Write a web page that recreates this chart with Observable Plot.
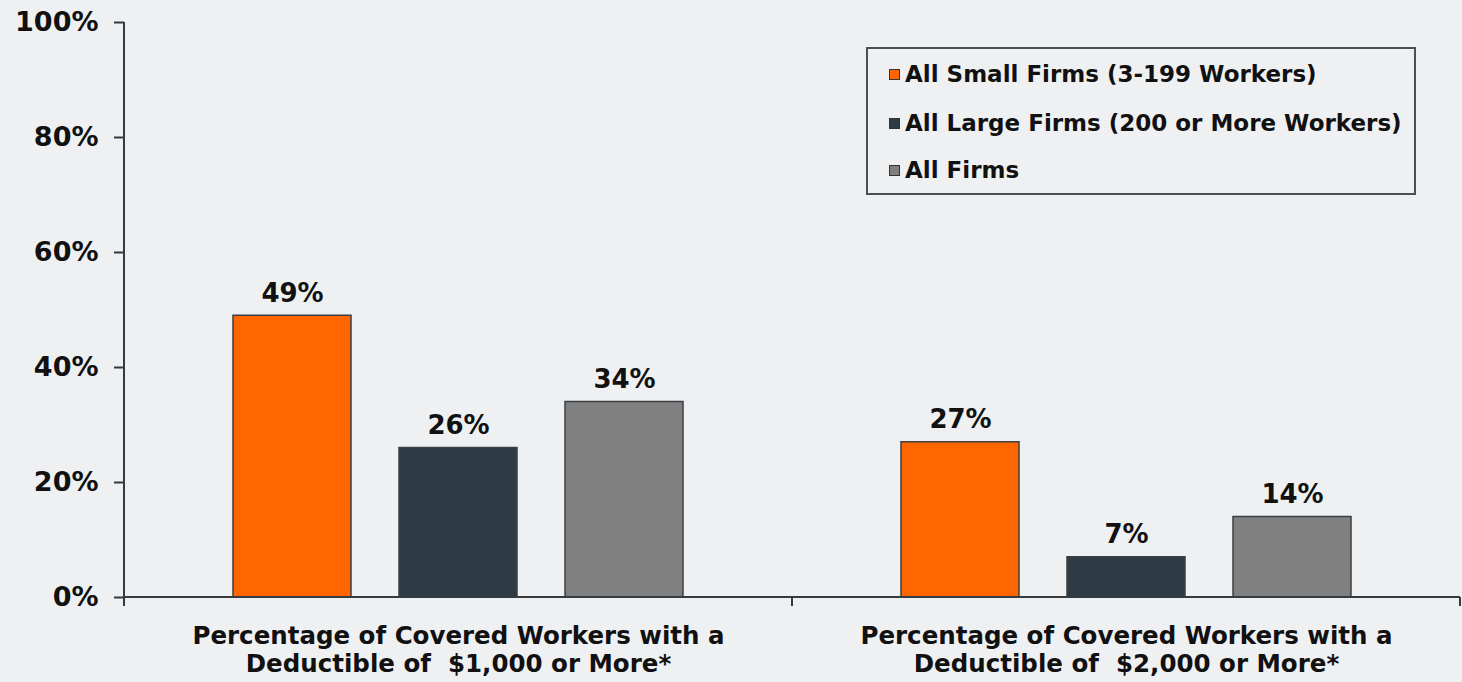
<!DOCTYPE html>
<html><head><meta charset="utf-8">
<script src="https://cdn.jsdelivr.net/npm/d3@7"></script>
<script src="https://cdn.jsdelivr.net/npm/@observablehq/plot@0.6"></script>
<style>
html,body{margin:0;padding:0;background:#eff0f2;}
#wrap{position:relative;width:1462px;height:682px;overflow:hidden;}
#legend{position:absolute;left:866px;top:47px;width:546px;height:144px;border:2px solid #4a4f55;font:bold 23px "DejaVu Sans";color:#111;}
.row{position:absolute;left:21px;height:30px;display:flex;align-items:center;white-space:nowrap;}
.sw{width:9px;height:9px;border:1px solid #333;margin-right:5px;flex:none;}
</style></head><body><div id="wrap"></div>
<script>
const groups = [
  "Percentage of Covered Workers with a\nDeductible of\u00a0 $1,000 or More*",
  "Percentage of Covered Workers with a\nDeductible of\u00a0 $2,000 or More*"
];
const series = ["All Small Firms (3-199 Workers)", "All Large Firms (200 or More Workers)", "All Firms"];
const colors = ["#ff6600", "#2e3a44", "#808080"];
const values1000 = [49, 26, 34];
const values2000 = [27, 7, 14];
const yTicks = [0, 20, 40, 60, 80, 100];

const groupValues = [values1000, values2000];
const rows = [];
groups.forEach((g, gi) => series.forEach((s, si) => rows.push({group: g, series: s, value: groupValues[gi][si]})));
const axisData = groups.map((g, i) => ({group: g, i}));

const axisLines = Plot.ruleY(axisData, {
  fx: "group",
  y: () => 0,
  render(index, scales, values, dims) {
    const d = axisData[index[0]];
    const y0 = scales.y(0), y1 = scales.y(100);
    const L = dims.marginLeft, R = dims.width - dims.marginRight;
    const g = d3.create("svg:g").attr("stroke", "#333a40").attr("stroke-width", 2).attr("fill", "none");
    g.append("line").attr("x1", L).attr("x2", R).attr("y1", y0).attr("y2", y0);
    g.append("line").attr("x1", L).attr("x2", L).attr("y1", y0).attr("y2", y0 + 9);
    g.append("line").attr("x1", R).attr("x2", R).attr("y1", y0).attr("y2", y0 + 9);
    if (d.i === 0) g.append("line").attr("x1", L).attr("x2", L).attr("y1", y1).attr("y2", y0);
    return g.node();
  }
});

const chart = Plot.plot({
  width: 1462, height: 682,
  marginLeft: 123, marginRight: 2, marginTop: 22, marginBottom: 85,
  style: {background: "transparent", fontFamily: "DejaVu Sans", fontWeight: "bold", color: "#111", overflow: "visible"},
  fx: {domain: groups, padding: 0},
  x: {domain: series, paddingInner: 0.29, paddingOuter: 0.657, axis: null},
  y: {domain: [0, 100], axis: null},
  color: {domain: series, range: colors},
  marks: [
    Plot.barY(rows, {fx: "group", x: "series", y: "value", fill: "series", stroke: "#3a3f44", strokeWidth: 1.5}),
    Plot.text(rows, {fx: "group", x: "series", y: "value", text: d => d.value + "%", lineAnchor: "bottom", dy: -14, fontSize: 26, fill: "#111"}),
    Plot.axisY({ticks: yTicks, tickFormat: d => d + "%", tickSize: 10, tickPadding: 16, fontSize: 27, label: null, stroke: "#333a40", strokeWidth: 2}),
    Plot.axisFx({anchor: "bottom", tickSize: 0, tickPadding: 27, fontSize: 24.5, lineHeight: 1.13, label: null}),
    axisLines
  ]
});

const wrap = document.getElementById("wrap");
wrap.appendChild(chart);
const legend = document.createElement("div");
legend.id = "legend";
const rowCenters = [25, 74, 121];
series.forEach((s, i) => {
  const r = document.createElement("div");
  r.className = "row";
  r.style.top = (rowCenters[i] - 15) + "px";
  const sw = document.createElement("span");
  sw.className = "sw";
  sw.style.background = colors[i];
  const t = document.createElement("span");
  t.textContent = s;
  r.appendChild(sw); r.appendChild(t);
  legend.appendChild(r);
});
wrap.appendChild(legend);
</script></body></html>
